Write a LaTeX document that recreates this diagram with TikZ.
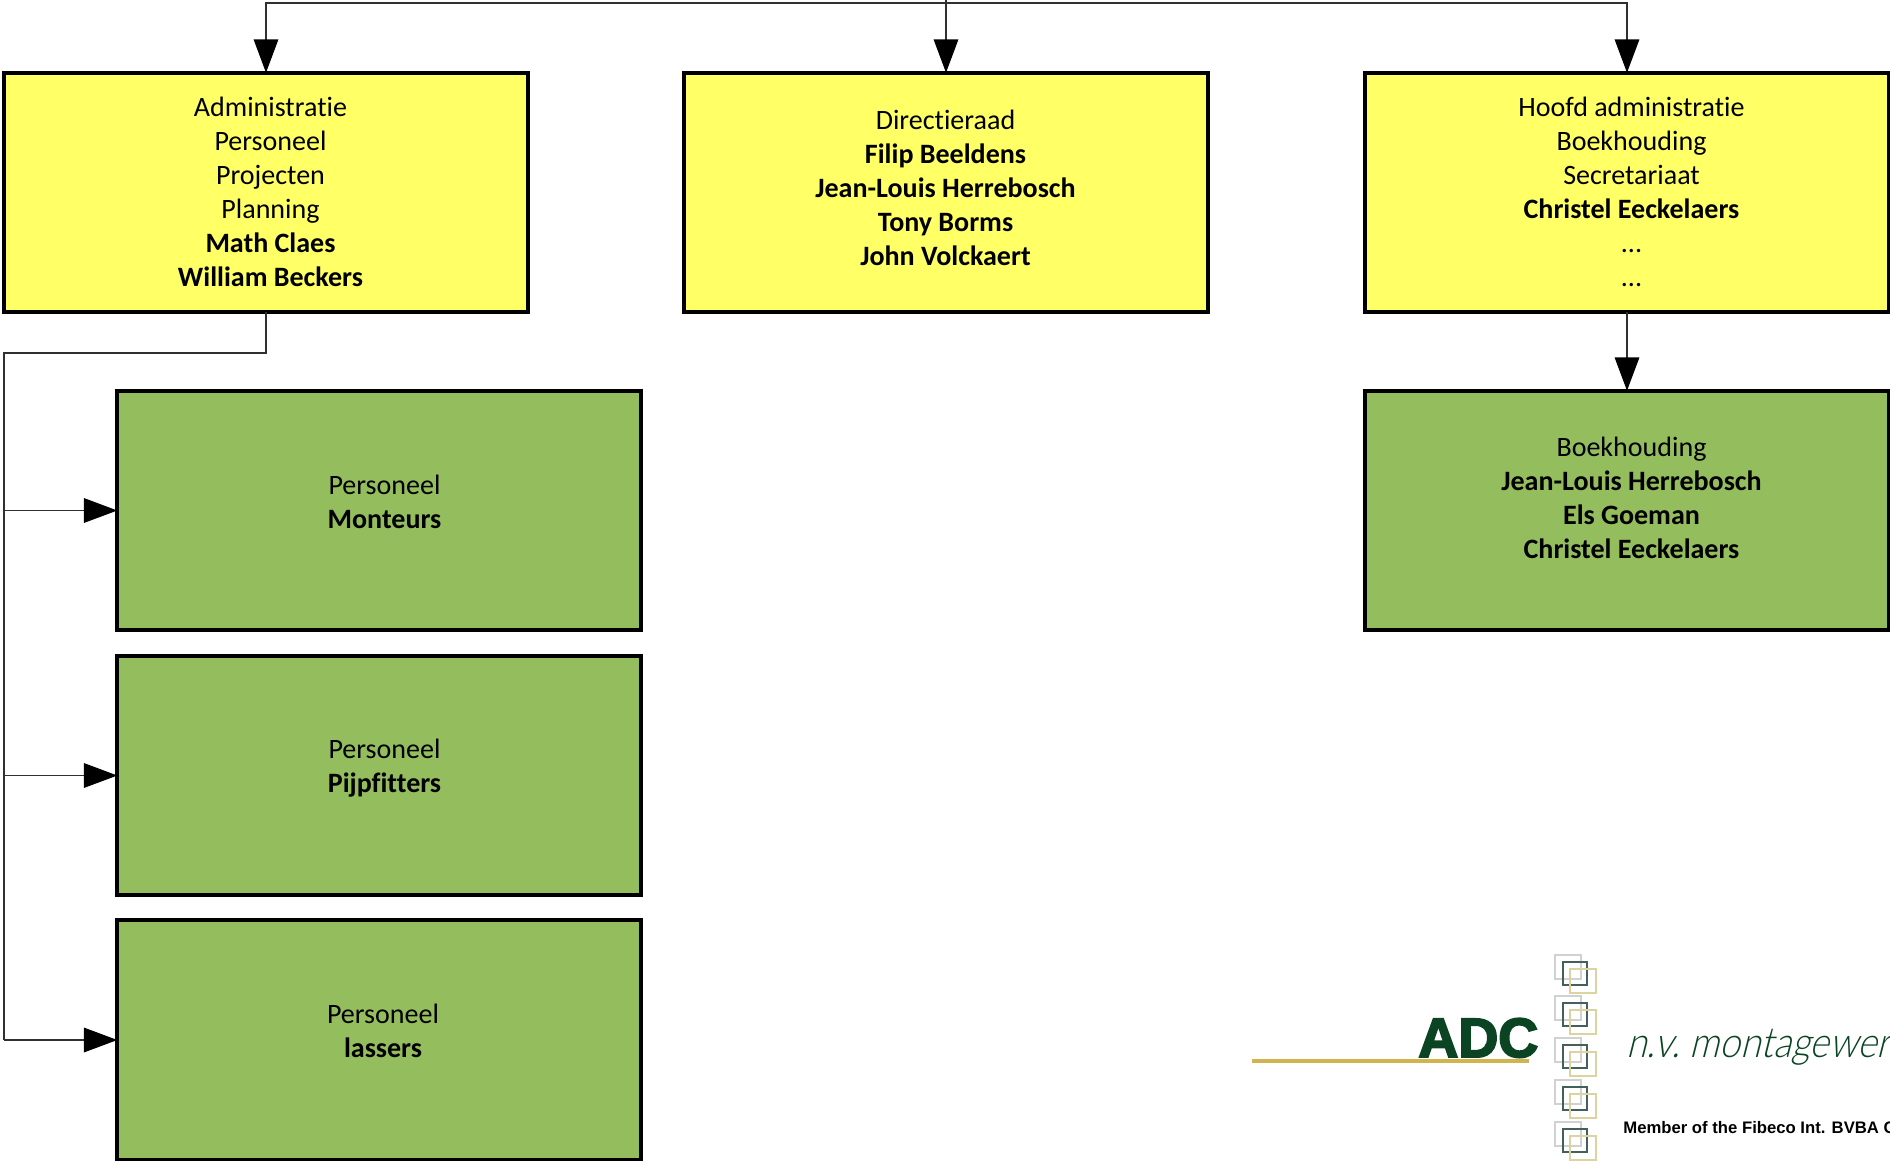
\documentclass[tikz,border=0pt]{standalone}
\usepackage{fontspec}
\setmainfont[Ligatures=NoCommon]{Carlito}
\newfontfamily\adcfont[FakeBold=3.5]{Liberation Sans Bold}
\newfontfamily\memberfont{Liberation Sans Bold}
\newfontfamily\montfont[FakeSlant=0.25,FakeStretch=0.88,WordSpace=0.6]{Lato Light}
\usetikzlibrary{arrows.meta}
\definecolor{boxyellow}{HTML}{FFFF66}
\definecolor{boxgreen}{HTML}{94BD5E}
\definecolor{adcgreen}{HTML}{0B4423}
\definecolor{adcgold}{HTML}{D2B44F}
\definecolor{linegrey}{HTML}{303030}
\definecolor{sqgrey}{HTML}{CFD2D0}
\definecolor{sqdark}{HTML}{45605A}
\definecolor{sqgold}{HTML}{DCD3A0}
\tikzset{
  orgbox/.style={draw=black,line width=2.1pt,minimum width=525.5*0.5669pt,minimum height=240.5*0.5669pt,inner sep=0pt,outer sep=0pt},
  yellowbox/.style={orgbox,fill=boxyellow},
  greenbox/.style={orgbox,fill=boxgreen},
  boxtext/.style={align=center,inner sep=0pt,text=black,font=\fontsize{15.95}{19.3}\selectfont},
  link/.style={draw=linegrey,line width=0.75pt},
  linkarrow/.style={link,-{Triangle[length=19pt,width=14pt,black]}},
  sq/.style={line width=0.6pt},
}
\newcommand{\logosquares}[1]{%
  \draw[sq,draw=sqgrey] (1555,#1) rectangle (1581,#1+24);
  \draw[sq,draw=sqdark] (1563,#1+7) rectangle (1587,#1+30);
  \draw[sq,draw=sqgold] (1570,#1+14) rectangle (1596,#1+38);
}
\begin{document}
\begin{tikzpicture}[x=0.02cm,y=-0.02cm]
\useasboundingbox (0,0) rectangle (1890,1160);
\clip (0,0) rectangle (1890,1160);
% boxes
\node[yellowbox] (y1) at (266,192.5) {};
\node[yellowbox] (y2) at (946,192.5) {};
\node[yellowbox] (y3) at (1627,192.5) {};
\node[greenbox] (g1) at (379,510.5) {};
\node[greenbox] (g2) at (379,775.5) {};
\node[greenbox] (g3) at (379,1040) {};
\node[greenbox] (g4) at (1627,510.5) {};
% texts
\node[boxtext] (ty1) at (270.5,192) {Administratie\\Personeel\\Projecten\\Planning\\\textbf{Math Claes}\\\textbf{William Beckers}};
\node[boxtext] (ty2) at (945.5,188) {Directieraad\\\textbf{Filip Beeldens}\\\textbf{Jean-Louis Herrebosch}\\\textbf{Tony Borms}\\\textbf{John Volckaert}};
\node[boxtext] (ty3) at (1631.5,192) {Hoofd administratie\\Boekhouding\\Secretariaat\\\textbf{Christel Eeckelaers}\\...\\...};
\node[boxtext] (tg1) at (384.5,502) {Personeel\\\textbf{Monteurs}};
\node[boxtext] (tg2) at (384.5,768.5) {Personeel\\\textbf{Pijpfitters}};
\node[boxtext] (tg3) at (383,1031) {Personeel\\\textbf{lassers}};
\node[boxtext] (tg4) at (1631.5,498) {Boekhouding\\\textbf{Jean-Louis Herrebosch}\\\textbf{Els Goeman}\\\textbf{Christel Eeckelaers}};
% connectors
\coordinate (stem) at (946,0);
\coordinate (bus) at (946,3);
\coordinate (railtop) at (4,353);
\coordinate (railend) at (4,1040);
\draw[link] (stem) -- (bus);
\draw[linkarrow] (bus) -| (y1.north);
\draw[linkarrow] (bus) -- (y2.north);
\draw[linkarrow] (bus) -| (y3.north);
\draw[linkarrow] (y3.south) -- (g4.north);
\draw[link] (y1.south) |- (railtop) -- (railend);
\draw[linkarrow] (railtop |- g1.west) -- (g1.west);
\draw[linkarrow] (railtop |- g2.west) -- (g2.west);
\draw[linkarrow] (railtop |- g3.west) -- (g3.west);
% logo
\logosquares{955}
\logosquares{996}
\logosquares{1038}
\logosquares{1080}
\logosquares{1122}
\draw[adcgold,line width=2.2pt] (1252,1061) -- (1529,1061);
\node[anchor=base west,inner sep=0pt,text=adcgreen,font=\adcfont\fontsize{31.5}{31.5}\selectfont] (adc) at (1418,1057) {ADC};
\node[anchor=base west,inner sep=0pt,text=adcgreen,font=\montfont\fontsize{24}{24}\selectfont] (mont) at (1626,1057) {n.v. montagewer};
\node[anchor=base west,inner sep=0pt,text=black,font=\memberfont\fontsize{9.5}{10}\selectfont] (member) at (1623,1133) {Member of the Fibeco Int. BVBA G};
\end{tikzpicture}
\end{document}
